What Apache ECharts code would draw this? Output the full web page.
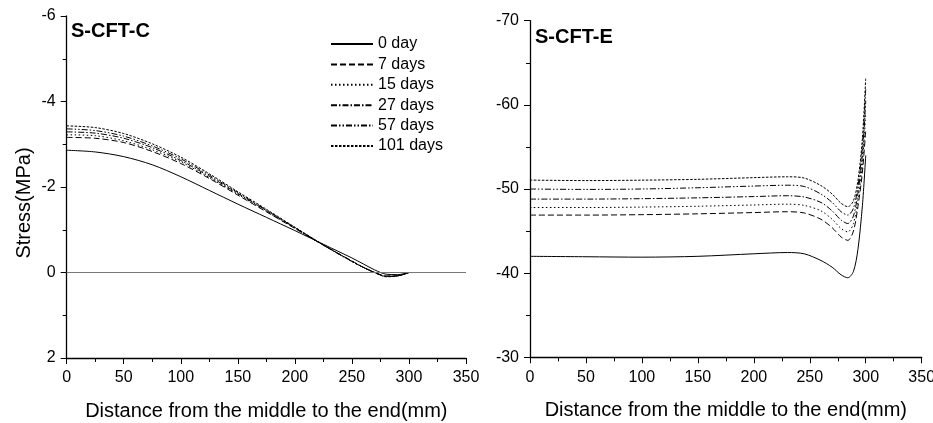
<!DOCTYPE html>
<html>
<head>
<meta charset="utf-8">
<script src="https://cdn.jsdelivr.net/npm/echarts@6/dist/echarts.min.js"></script>
<style>html,body{margin:0;padding:0;background:#fff}#c{width:933px;height:423px}</style>
</head>
<body>
<div id="c"></div>
<script>
// ---- Data ----
const seriesNames = ['0 day', '7 days', '15 days', '27 days', '57 days', '101 days'];

// S-CFT-C (left panel)
const xC = [0, 25, 50, 75, 100, 125, 150, 175, 200, 225, 250, 260, 270, 280, 290, 300];
const c0   = [-2.86, -2.82, -2.71, -2.52, -2.24, -1.92, -1.60, -1.29, -0.98, -0.66, -0.34, -0.20, -0.06, 0.04, 0.05, 0.0];
const c7   = [-3.16, -3.14, -3.04, -2.83, -2.55, -2.20, -1.81, -1.42, -1.03, -0.64, -0.27, -0.12, 0.00, 0.08, 0.07, 0.0];
const c15  = [-3.22, -3.20, -3.08, -2.87, -2.59, -2.22, -1.83, -1.43, -1.04, -0.64, -0.26, -0.12, 0.00, 0.09, 0.08, 0.0];
const c27  = [-3.29, -3.26, -3.14, -2.92, -2.62, -2.25, -1.85, -1.45, -1.05, -0.64, -0.26, -0.12, 0.00, 0.09, 0.08, 0.0];
const c57  = [-3.36, -3.32, -3.19, -2.96, -2.66, -2.28, -1.87, -1.46, -1.05, -0.64, -0.26, -0.12, 0.00, 0.09, 0.08, 0.0];
const c101 = [-3.43, -3.39, -3.25, -3.01, -2.70, -2.31, -1.89, -1.48, -1.06, -0.65, -0.26, -0.12, 0.00, 0.10, 0.08, 0.0];

// S-CFT-E (right panel)
const xE = [0, 50, 100, 150, 200, 230, 245, 260, 270, 278, 284, 289, 293, 297, 300];
const e0   = [-42.0, -41.95, -41.9, -42.0, -42.3, -42.45, -42.3, -41.5, -40.7, -39.8, -39.45, -40.2, -42.8, -48.0, -54.0];
const e7   = [-46.9, -46.9, -46.95, -47.05, -47.2, -47.3, -47.15, -46.4, -45.4, -44.3, -43.9, -45.0, -47.9, -52.0, -57.0];
const e15  = [-47.8, -47.8, -47.85, -47.95, -48.1, -48.2, -48.05, -47.4, -46.4, -45.3, -44.9, -45.9, -48.7, -53.0, -59.0];
const e27  = [-48.8, -48.8, -48.85, -48.95, -49.1, -49.2, -49.05, -48.4, -47.4, -46.3, -45.9, -46.8, -49.5, -54.0, -60.5];
const e57  = [-50.0, -49.95, -50.0, -50.15, -50.35, -50.45, -50.3, -49.4, -48.4, -47.3, -46.9, -47.7, -50.3, -55.0, -62.0];
const e101 = [-51.06, -51.0, -51.05, -51.15, -51.35, -51.45, -51.3, -50.4, -49.4, -48.3, -47.9, -48.6, -51.0, -56.0, -63.3];

const xTicks = [0, 50, 100, 150, 200, 250, 300, 350];
const yTicksC = [-6, -4, -2, 0, 2];
const yTicksE = [-70, -60, -50, -40, -30];

// ---- Styles ----
const FONT = "'Liberation Sans', Arial, sans-serif";
const dashTypes = ['solid', [6, 3], [1.5, 2.5], [6, 2, 1.5, 2], [6, 2, 1.5, 2, 1.5, 2], [2.5, 1.5]];
const valuesC = [c0, c7, c15, c27, c57, c101];
const valuesE = [e0, e7, e15, e27, e57, e101];

function pairs(xs, ys) { return xs.map((x, i) => [x, ys[i]]); }

const axisCommonX = (gridIndex) => ({
  type: 'value', gridIndex: gridIndex, min: xTicks[0], max: xTicks[xTicks.length - 1], interval: 50,
  name: 'Distance from the middle to the end(mm)', nameLocation: 'middle', nameGap: 43,
  nameTextStyle: { fontFamily: FONT, fontSize: 20, color: '#000' },
  axisLine: { onZero: false, lineStyle: { color: '#000', width: 1.3 } },
  axisTick: { show: true, inside: false, length: 6, lineStyle: { color: '#000', width: 1 } },
  minorTick: { show: true, splitNumber: 2, length: 4, lineStyle: { color: '#000', width: 1 } },
  axisLabel: { fontFamily: FONT, fontSize: 16, color: '#000', margin: 12, showMaxLabel: true, showMinLabel: true },
  splitLine: { show: false }
});

const axisCommonY = (gridIndex, ticks, interval, withName) => ({
  type: 'value', gridIndex: gridIndex, min: ticks[0], max: ticks[ticks.length - 1], interval: interval,
  inverse: true,
  name: withName ? 'Stress(MPa)' : '', nameLocation: 'middle', nameGap: 32,
  nameTextStyle: { fontFamily: FONT, fontSize: 20, color: '#000', padding: [0, 32, 0, 0] },
  axisLine: { show: true, onZero: false, lineStyle: { color: '#000', width: 1.3 } },
  axisTick: { show: true, inside: false, length: 6, lineStyle: { color: '#000', width: 1 } },
  minorTick: { show: true, splitNumber: 2, length: 4, lineStyle: { color: '#000', width: 1 } },
  axisLabel: { fontFamily: FONT, fontSize: 16, color: '#000', margin: 11 },
  splitLine: { show: false }
});

const series = [];
seriesNames.forEach((n, i) => {
  const s = {
    name: n, type: 'line', xAxisIndex: 0, yAxisIndex: 0,
    data: pairs(xC, valuesC[i]), smooth: 0.3,
    symbol: 'none', showSymbol: false,
    lineStyle: { color: '#000', width: 1, type: dashTypes[i] },
    itemStyle: { color: '#000' }, z: 3
  };
  if (i === 0) {
    s.markLine = {
      silent: true, symbol: ['none', 'none'], label: { show: false },
      lineStyle: { color: '#777', width: 1, type: 'solid' },
      data: [{ yAxis: 0 }]
    };
  }
  series.push(s);
});
seriesNames.forEach((n, i) => {
  series.push({
    name: n, type: 'line', xAxisIndex: 1, yAxisIndex: 1,
    data: pairs(xE, valuesE[i]), smooth: 0.3,
    symbol: 'none', showSymbol: false,
    lineStyle: { color: '#000', width: 1, type: dashTypes[i] },
    itemStyle: { color: '#000' }, z: 3
  });
});

const chart = echarts.init(document.getElementById('c'), null, { renderer: 'canvas' });
chart.setOption({
  animation: false,
  backgroundColor: '#fff',
  title: [
    { text: 'S-CFT-C', left: 71, top: 21, padding: 0, textStyle: { fontFamily: FONT, fontSize: 20, fontWeight: 'bold', color: '#000' } },
    { text: 'S-CFT-E', left: 535, top: 27, padding: 0, textStyle: { fontFamily: FONT, fontSize: 20, fontWeight: 'bold', color: '#000' } }
  ],
  legend: {
    data: seriesNames, orient: 'vertical', left: 330, top: 36, padding: 0,
    itemWidth: 42, itemHeight: 14, itemGap: 4.4,
    itemStyle: { opacity: 0 },
    textStyle: { fontFamily: FONT, fontSize: 16, color: '#000' },
    selectedMode: false
  },
  grid: [
    { left: 66.7, right: 467, top: 16, bottom: 65, containLabel: false, outerBoundsMode: 'none' },
    { left: 530, right: 11.3, top: 20.7, bottom: 65.7, containLabel: false, outerBoundsMode: 'none' }
  ],
  xAxis: [axisCommonX(0), axisCommonX(1)],
  yAxis: [axisCommonY(0, yTicksC, 2, true), axisCommonY(1, yTicksE, 10, false)],
  series: series
});
</script>
</body>
</html>
